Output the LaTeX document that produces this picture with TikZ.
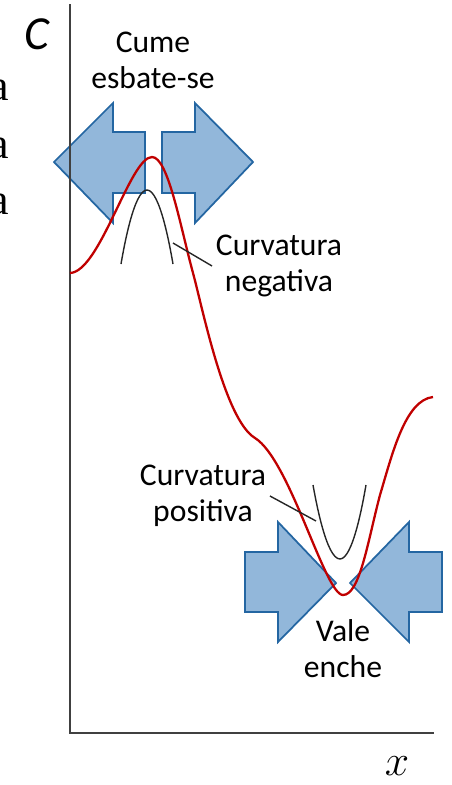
\documentclass[tikz,border=0pt]{standalone}
\usepackage{fontspec}
\setmainfont{Carlito}
\newfontfamily\cutserif{Liberation Serif}
\definecolor{ArrowFill}{HTML}{92B7DA}
\definecolor{ArrowLine}{HTML}{2466A2}
\definecolor{CurveRed}{HTML}{C00000}
\definecolor{AxisGray}{HTML}{404040}

\begin{document}
\begin{tikzpicture}[x=0.02cm,y=-0.02cm,
  lbl/.style={align=center,font=\fontsize{18}{20.5}\selectfont,inner sep=2pt},
  bigarrow/.style={fill=ArrowFill,draw=ArrowLine,line width=1pt,line join=miter},
  sketchline/.style={draw=black!85,line width=0.8pt}]
  \clip (0,0) rectangle (451,785);
  % cut-off letters at the left edge
  \node[anchor=base east,inner sep=0pt,font=\cutserif\fontsize{25}{25}\selectfont] (a1) at (9,100) {a};
  \node[anchor=base east,inner sep=0pt,font=\cutserif\fontsize{25}{25}\selectfont] (a2) at (9,158) {a};
  \node[anchor=base east,inner sep=0pt,font=\cutserif\fontsize{25}{25}\selectfont] (a3) at (9,214) {a};
  % block arrows
  \draw[bigarrow] (54,162) -- (113,103) -- (113,132) -- (145,132) -- (145,193) -- (113,193) -- (113,223) -- cycle;
  \draw[bigarrow] (253,162) -- (195,103) -- (195,132) -- (162,132) -- (162,193) -- (195,193) -- (195,223) -- cycle;
  \draw[bigarrow] (336,583) -- (278,522) -- (278,552) -- (245,552) -- (245,612) -- (278,612) -- (278,642) -- cycle;
  \draw[bigarrow] (350,583) -- (409,522) -- (409,552) -- (442,552) -- (442,612) -- (409,612) -- (409,642) -- cycle;
  % axes
  \coordinate (top) at (70,4);
  \coordinate (origin) at (70,733);
  \coordinate (right) at (434,733);
  \draw[AxisGray,line width=1.1pt] (top) -- (origin) -- (right);
  \node[font=\fontsize{27}{27}\selectfont\itshape] (C) at (37,34) {C};
  \node[font=\fontsize{28}{28}\selectfont] (X) at (397,766) {$x$};
  % curvature sketches
  \draw[sketchline] (121,264) parabola bend (147,190) (173,264);
  \draw[sketchline] (313,485) parabola bend (340,559) (366,485);
  \coordinate (ntip) at (173,243);
  \coordinate (ptip) at (316,521);
  % concentration profile
  \draw[CurveRed,line width=1.3pt] (70,273)
    .. controls (100,272) and (130,157) .. (152,157)
    .. controls (168,157) and (180,225) .. (193,273)
    .. controls (203,310) and (225,420) .. (255,438)
    .. controls (290,460) and (325,595) .. (343,595)
    .. controls (360,595) and (368,540) .. (380,495)
    .. controls (392,455) and (405,400) .. (433,397);
  % labels
  \node[lbl] (peak) at (153,60) {Cume\\esbate-se};
  \node[lbl] (neg) at (279,266) {Curvatura\\negativa};
  \node[lbl] (pos) at (203,496) {Curvatura\\positiva};
  \node[lbl] (vale) at (343,649) {Vale\\enche};
  \draw[sketchline] (ntip) -- (neg.west);
  \draw[sketchline] (ptip) -- (pos.east);
\end{tikzpicture}
\end{document}
